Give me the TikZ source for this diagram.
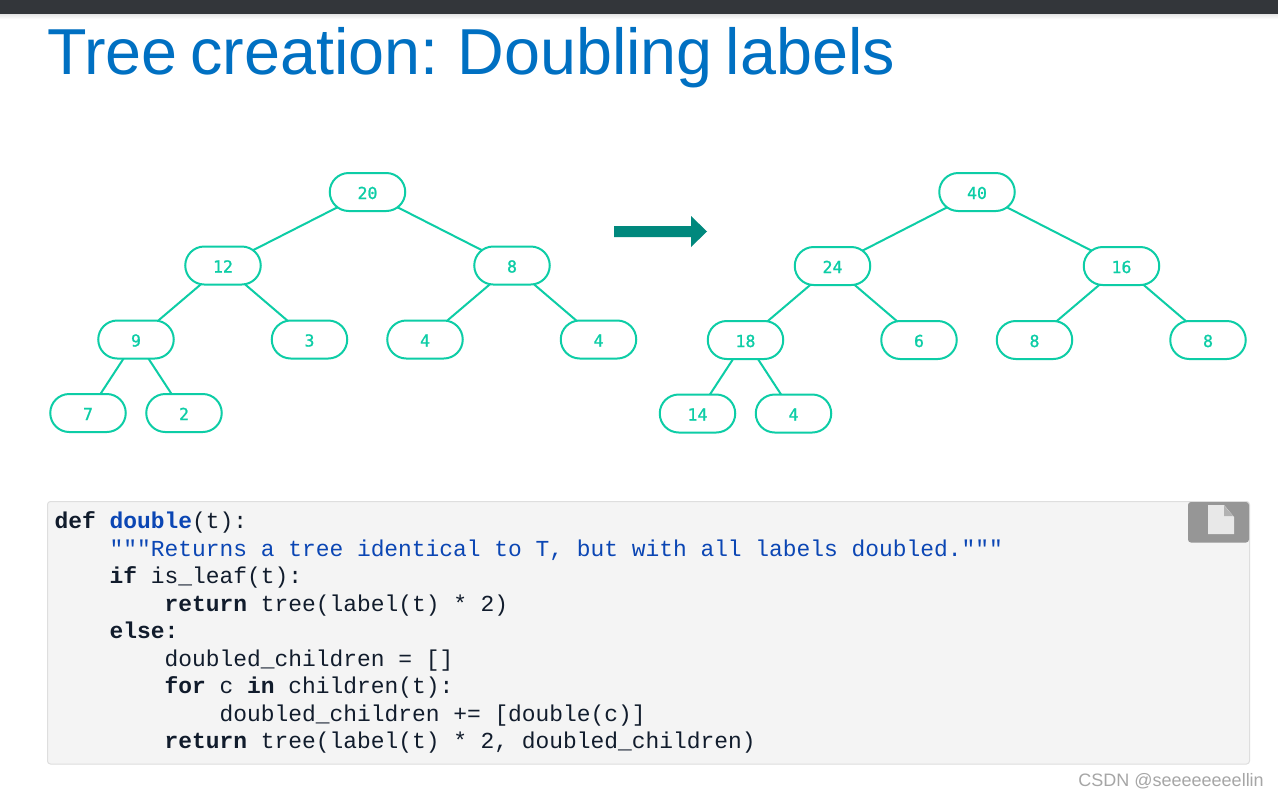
\documentclass[tikz,border=0pt]{standalone}
\usepackage{fontspec}
\setmainfont{Liberation Sans}
\newfontfamily\titlefont[WordSpace=0.72,FakeStretch=0.995]{Liberation Sans}
\newfontfamily\codefont{Liberation Mono}
\newfontfamily\digitfont[FakeBold=1.2]{DejaVu Sans Mono}
\usetikzlibrary{backgrounds}
\pgfdeclarelayer{edges}
\pgfsetlayers{background,edges,main}
\definecolor{treegreen}{HTML}{0DCDA6}
\definecolor{titleblue}{HTML}{0070C2}
\definecolor{codeink}{HTML}{111C2C}
\definecolor{codeblue}{HTML}{0B46B4}
\definecolor{arrowteal}{HTML}{00887D}
\definecolor{barcolor}{HTML}{33363A}
\definecolor{codebg}{HTML}{F4F4F4}
\tikzset{
  x=1pt,y=-1pt,
  tnode/.style={draw=treegreen,line width=2pt,fill=white,rounded corners=19pt,minimum width=75.5pt,minimum height=38pt,inner sep=0pt,text height=14pt,text depth=0pt,text=treegreen,font=\digitfont\fontsize{16.5}{16.5}\selectfont},
  tedge/.style={draw=treegreen,line width=2pt},
  codeline/.style={anchor=base west,inner sep=0pt,text=codeink,font=\codefont\fontsize{22.9}{24}\selectfont},
}
\begin{document}
\begin{tikzpicture}
\useasboundingbox (0,0) rectangle (1278,796);
\begin{pgfonlayer}{background}
\fill[white] (0,0) rectangle (1278,796);
\end{pgfonlayer}
% top bar
\shade[top color=black!12,bottom color=white] (0,13) rectangle (1278,19);
\fill[barcolor] (0,0) rectangle (1278,13.5);
\node[anchor=base west,inner sep=0pt,text=titleblue,font=\titlefont\fontsize{65}{70}\selectfont] (title) at (47,74) {Tree creation: Doubling labels};
% left tree
\node[tnode] (a0) at (367.5,192) {20};
\node[tnode] (a1) at (223,265.5) {12};
\node[tnode] (a2) at (512,265.5) {8};
\node[tnode] (a3) at (136,339.5) {9};
\node[tnode] (a4) at (309.5,339.5) {3};
\node[tnode] (a5) at (425,339.5) {4};
\node[tnode] (a6) at (598.5,339.5) {4};
\node[tnode] (a7) at (88,413) {7};
\node[tnode] (a8) at (184,413) {2};
% right tree
\node[tnode] (b0) at (977,192) {40};
\node[tnode] (b1) at (832.5,266) {24};
\node[tnode] (b2) at (1121.5,266) {16};
\node[tnode] (b3) at (745.5,340) {18};
\node[tnode] (b4) at (919,340) {6};
\node[tnode] (b5) at (1034.5,340) {8};
\node[tnode] (b6) at (1208,340) {8};
\node[tnode] (b7) at (697.5,413.5) {14};
\node[tnode] (b8) at (793.5,413.5) {4};
\begin{pgfonlayer}{edges}
\foreach \t in {a,b}{
  \draw[tedge] (\t0.center) -- (\t1.center);
  \draw[tedge] (\t0.center) -- (\t2.center);
  \draw[tedge] (\t1.center) -- (\t3.center);
  \draw[tedge] (\t1.center) -- (\t4.center);
  \draw[tedge] (\t2.center) -- (\t5.center);
  \draw[tedge] (\t2.center) -- (\t6.center);
  \draw[tedge] (\t3.center) -- (\t7.center);
  \draw[tedge] (\t3.center) -- (\t8.center);
}
\end{pgfonlayer}
% block arrow
\fill[arrowteal] (614,226) -- (691,226) -- (691,216) -- (707,231.5) -- (691,247) -- (691,237) -- (614,237) -- cycle;
% code box
\draw[draw=black!13,fill=codebg,line width=1pt,rounded corners=3pt] (47.5,501.5) rectangle (1249.5,764);
% copy button
\fill[black!41,rounded corners=3pt] (1188,502) -- (1188,542.5) -- (1249,542.5) -- (1249,502) -- cycle;
\fill[black!9] (1208,505) -- (1224,505) -- (1234,517) -- (1234,534) -- (1208,534) -- cycle;
\fill[black!30] (1224,505.5) -- (1224,516) -- (1233,516) -- cycle;
% code
\node[codeline] (l1) at (54.5,528.3) {\textbf{def} \textcolor{codeblue}{\textbf{double}}(t):};
\node[codeline,text=codeblue] (l2) at (109.5,556) {"""Returns a tree identical to T, but with all labels doubled."""};
\node[codeline] (l3) at (109.5,583.5) {\textbf{if} is\_leaf(t):};
\node[codeline] (l4) at (164.5,611) {\textbf{return} tree(label(t) * 2)};
\node[codeline] (l5) at (109.5,638.3) {\textbf{else:}};
\node[codeline] (l6) at (164.5,666) {doubled\_children = []};
\node[codeline] (l7) at (164.5,693.3) {\textbf{for} c \textbf{in} children(t):};
\node[codeline] (l8) at (219.5,721) {doubled\_children += [double(c)]};
\node[codeline] (l9) at (164.5,748.3) {\textbf{return} tree(label(t) * 2, doubled\_children)};
\node[anchor=base east,inner sep=0pt,text=black!35,font=\fontsize{18}{20}\selectfont] (wm) at (1264,786) {CSDN @seeeeeeeellin};
\end{tikzpicture}
\end{document}
